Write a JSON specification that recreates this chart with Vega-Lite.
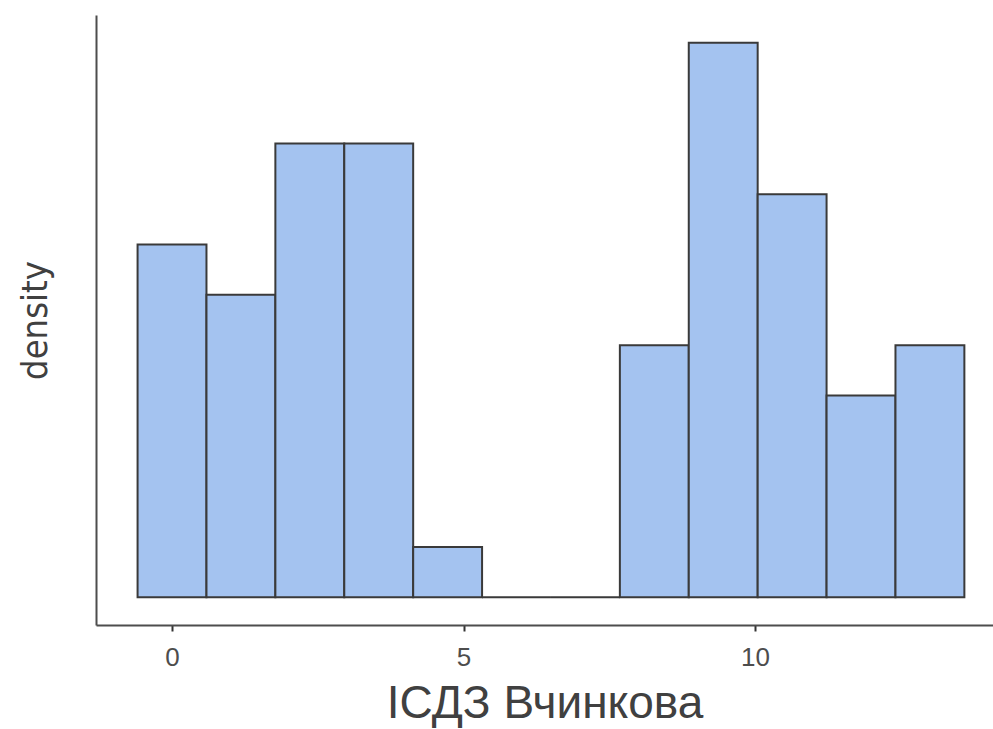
{
  "$schema": "https://vega.github.io/schema/vega-lite/v6.json",
  "width": 897,
  "height": 610,
  "autosize": "none",
  "padding": {"left": 96, "top": 15, "right": 0, "bottom": 104},
  "background": "white",
  "config": {"view": {"stroke": null}},
  "data": {
    "values": [
      {"bin_start": -0.5909, "bin_end": 0.5909, "count": 7, "density": 0.0911},
      {"bin_start": 0.5909, "bin_end": 1.7727, "count": 6, "density": 0.0781},
      {"bin_start": 1.7727, "bin_end": 2.9545, "count": 9, "density": 0.1172},
      {"bin_start": 2.9545, "bin_end": 4.1364, "count": 9, "density": 0.1172},
      {"bin_start": 4.1364, "bin_end": 5.3182, "count": 1, "density": 0.0130},
      {"bin_start": 5.3182, "bin_end": 6.5, "count": 0, "density": 0},
      {"bin_start": 6.5, "bin_end": 7.6818, "count": 0, "density": 0},
      {"bin_start": 7.6818, "bin_end": 8.8636, "count": 5, "density": 0.0651},
      {"bin_start": 8.8636, "bin_end": 10.0455, "count": 11, "density": 0.1432},
      {"bin_start": 10.0455, "bin_end": 11.2273, "count": 8, "density": 0.1041},
      {"bin_start": 11.2273, "bin_end": 12.4091, "count": 4, "density": 0.0521},
      {"bin_start": 12.4091, "bin_end": 13.5909, "count": 5, "density": 0.0651}
    ]
  },
  "mark": {"type": "rect", "fill": "#a4c3f0", "stroke": "#3a3a3a", "strokeWidth": 2},
  "encoding": {
    "x": {
      "field": "bin_start",
      "type": "quantitative",
      "scale": {"domain": [-1.304, 14.082], "nice": false, "zero": false},
      "axis": {
        "title": "ІСДЗ Вчинкова",
        "values": [0, 5, 10],
        "grid": false,
        "domainColor": "#4d4d4d",
        "domainWidth": 2,
        "tickColor": "#333333",
        "tickWidth": 2,
        "tickSize": 6,
        "labelFont": "Liberation Sans",
        "labelFontSize": 26,
        "labelColor": "#4d4d4d",
        "labelPadding": 13,
        "titleFont": "Liberation Sans",
        "titleFontSize": 46,
        "titleFontWeight": "normal",
        "titleColor": "#404040",
        "titlePadding": 11
      }
    },
    "x2": {"field": "bin_end"},
    "y": {
      "field": "density",
      "type": "quantitative",
      "scale": {"domain": [-0.00716, 0.15036], "nice": false, "zero": false},
      "axis": {
        "title": "density",
        "labels": false,
        "ticks": false,
        "grid": false,
        "domainColor": "#4d4d4d",
        "domainWidth": 2,
        "titleFont": "DejaVu Sans Condensed, Open Sans, sans-serif",
        "titleFontSize": 36,
        "titleFontWeight": "normal",
        "titleColor": "#404040",
        "titlePadding": 42
      }
    },
    "y2": {"datum": 0}
  }
}
